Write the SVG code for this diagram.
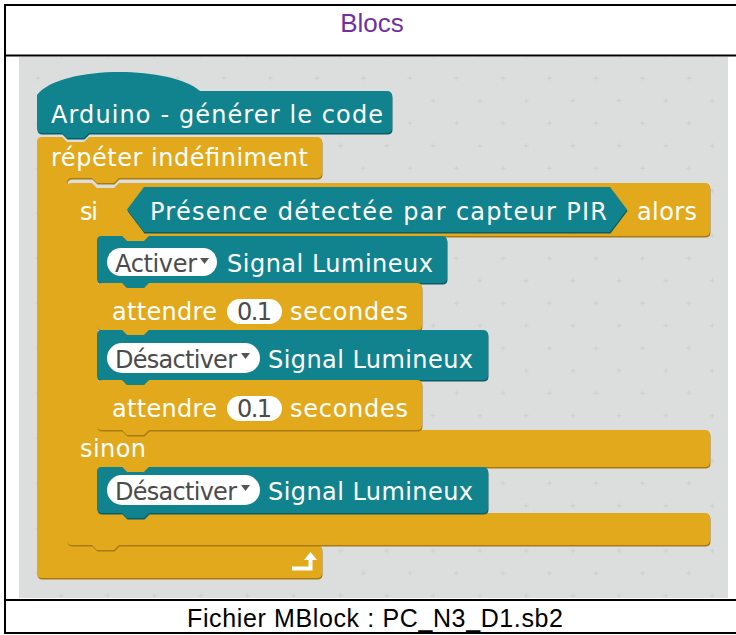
<svg xmlns="http://www.w3.org/2000/svg" xmlns:xlink="http://www.w3.org/1999/xlink" width="736" height="635" viewBox="0 0 736 635">
<defs>
<style>
.tbl{fill:none;stroke:#000;stroke-width:2}
.teal{fill:#11838f}
.tealS{fill:#0a5c66}
.yel{fill:#e2a91c}
.yelS{fill:#a87a12}
.t{font-family:"DejaVu Sans",Verdana,sans-serif;font-size:24px;fill:#fff}
.d{font-family:"DejaVu Sans",Verdana,sans-serif;font-size:24px;fill:#4b4b4b}
.pill{fill:#fff}
.arr{fill:#555}
.hdr{font-family:"Liberation Sans",Arial,sans-serif;font-size:26px;text-anchor:middle}
</style>
<pattern id="grid" x="398.4" y="67" width="46.5" height="45" patternUnits="userSpaceOnUse">
<path d="M9.1,11.25h5M11.6,8.75v5M32.4,33.75h5M34.9,31.25v5" stroke="#cdd0cf" stroke-width="1" fill="none"/>
</pattern>
<path id="pHat" d="M37,95 C60,65 170,65 200,91 L387,91 Q392,91 392,96 L392,128 Q392,133 387,133 L89,133 L84,138 L67,138 L62,133 L42,133 Q37,133 37,128 Z"/>
<path id="pFor" d="M37,142 Q37,137 42,137 L62,137 L67,142 L84,142 L89,137 L317,137 Q322,137 322,142 L322,173 Q322,178 317,178 L119,178 L114,183 L97,183 L92,178 L72,178 Q67,178 67,183 L67,540 Q67,545 72,545 L92,545 L97,550 L114,550 L119,545 L317,545 Q322,545 322,550 L322,573 Q322,578 317,578 L42,578 Q37,578 37,573 Z"/>
<path id="pIf" d="M67,188 Q67,183 72,183 L92,183 L97,188 L114,188 L119,183 L705,183 Q710,183 710,188 L710,231 Q710,236 705,236 L149,236 L144,241 L127,241 L122,236 L102,236 Q97,236 97,241 L97,425 Q97,430 102,430 L122,430 L127,435 L144,435 L149,430 L705,430 Q710,430 710,435 L710,462 Q710,467 705,467 L149,467 L144,472 L127,472 L122,467 L102,467 Q97,467 97,472 L97,508 Q97,513 102,513 L122,513 L127,518 L144,518 L149,513 L705,513 Q710,513 710,518 L710,540 Q710,545 705,545 L119,545 L114,550 L97,550 L92,545 L72,545 Q67,545 67,540 Z"/>
<path id="pA" d="M97,241 Q97,236 102,236 L122,236 L127,241 L144,241 L149,236 L442,236 Q447,236 447,241 L447,278 Q447,283 442,283 L149,283 L144,288 L127,288 L122,283 L102,283 Q97,283 97,278 Z"/>
<path id="pB" d="M97,288 Q97,283 102,283 L122,283 L127,288 L144,288 L149,283 L417,283 Q422,283 422,288 L422,325 Q422,330 417,330 L149,330 L144,335 L127,335 L122,330 L102,330 Q97,330 97,325 Z"/>
<path id="pC" d="M97,335 Q97,330 102,330 L122,330 L127,335 L144,335 L149,330 L483,330 Q488,330 488,335 L488,375 Q488,380 483,380 L149,380 L144,385 L127,385 L122,380 L102,380 Q97,380 97,375 Z"/>
<path id="pD" d="M97,385 Q97,380 102,380 L122,380 L127,385 L144,385 L149,380 L417,380 Q422,380 422,385 L422,425 Q422,430 417,430 L149,430 L144,435 L127,435 L122,430 L102,430 Q97,430 97,425 Z"/>
<path id="pE" d="M97,472 Q97,467 102,467 L122,467 L127,472 L144,472 L149,467 L483,467 Q488,467 488,472 L488,508 Q488,513 483,513 L149,513 L144,518 L127,518 L122,513 L102,513 Q97,513 97,508 Z"/>
<path id="pHex" d="M127,209.5 L144,187 L610,187 L627,209.5 L610,232 L144,232 Z"/>
</defs>

<g id="table">
<rect x="5" y="5" width="740" height="628" class="tbl"/>
<line x1="5" y1="55.5" x2="736" y2="55.5" class="tbl"/>
<line x1="5" y1="600" x2="736" y2="600" class="tbl"/>
<text x="372" y="32" class="hdr" fill="#7030a0">Blocs</text>
<text x="187" y="627" font-family="Liberation Sans, Arial, sans-serif" font-size="25" fill="#000" textLength="376">Fichier MBlock : PC_N3_D1.sb2</text>
</g>

<g id="canvas">
<rect x="19" y="57" width="709" height="541" fill="#dcdedd"/>
<rect x="19" y="57" width="709" height="541" fill="url(#grid)"/>
</g>

<g id="connectors"></g>

<g id="hat">
<use xlink:href="#pHat" class="tealS" transform="translate(0.5,1.5)"/>
<use xlink:href="#pHat" class="teal"/>
<text x="51" y="123" class="t" textLength="332">Arduino - générer le code</text>
</g>

<g id="forever">
<use xlink:href="#pFor" class="yelS" transform="translate(0.5,1.5)"/>
<use xlink:href="#pFor" class="yel"/>
<text x="51" y="166" class="t" textLength="257">répéter indéfiniment</text>
<path d="M292,568.5 H310.5 V558" fill="none" stroke="#fff" stroke-width="4"/>
<polygon points="304,560 310.5,552 317,560" fill="#fff"/>
</g>

<g id="ifelse">
<use xlink:href="#pIf" class="yelS" transform="translate(0.5,1.5)"/>
<use xlink:href="#pIf" class="yel"/>
<text x="80" y="220" class="t" textLength="18">si</text>
<text x="637" y="220" class="t" textLength="60">alors</text>
<text x="80" y="457" class="t" textLength="66">sinon</text>
</g>

<g id="condition">
<use xlink:href="#pHex" class="tealS" transform="translate(0.5,1.5)"/>
<use xlink:href="#pHex" class="teal"/>
<text x="150" y="220" class="t" textLength="457">Présence détectée par capteur PIR</text>
</g>

<g id="activer">
<use xlink:href="#pA" class="tealS" transform="translate(0.5,1.5)"/>
<use xlink:href="#pA" class="teal"/>
<rect x="107" y="248" width="110" height="28" rx="14" class="pill"/>
<text x="115" y="272" class="d" textLength="82">Activer</text>
<polygon points="200,258 209,258 204.5,264" class="arr"/>
<text x="227" y="272" class="t" textLength="206">Signal Lumineux</text>
</g>

<g id="attendre1">
<use xlink:href="#pB" class="yelS" transform="translate(0.5,1.5)"/>
<use xlink:href="#pB" class="yel"/>
<text x="112" y="320" class="t" textLength="105">attendre</text>
<rect x="227" y="299" width="55" height="25" rx="12.5" class="pill"/>
<text x="237" y="320" class="d" textLength="35">0.1</text>
<text x="290" y="320" class="t" textLength="118">secondes</text>
</g>

<g id="desactiver1">
<use xlink:href="#pC" class="tealS" transform="translate(0.5,1.5)"/>
<use xlink:href="#pC" class="teal"/>
<rect x="107" y="343" width="153" height="30" rx="15" class="pill"/>
<text x="115" y="368" class="d" textLength="122">Désactiver</text>
<polygon points="241,353 250,353 245.5,359" class="arr"/>
<text x="268" y="368" class="t" textLength="205">Signal Lumineux</text>
</g>

<g id="attendre2">
<use xlink:href="#pD" class="yelS" transform="translate(0.5,1.5)"/>
<use xlink:href="#pD" class="yel"/>
<text x="112" y="417" class="t" textLength="105">attendre</text>
<rect x="227" y="396" width="55" height="25" rx="12.5" class="pill"/>
<text x="237" y="417" class="d" textLength="35">0.1</text>
<text x="290" y="417" class="t" textLength="118">secondes</text>
</g>

<g id="desactiver2">
<use xlink:href="#pE" class="tealS" transform="translate(0.5,1.5)"/>
<use xlink:href="#pE" class="teal"/>
<rect x="107" y="475" width="153" height="30" rx="15" class="pill"/>
<text x="115" y="500" class="d" textLength="122">Désactiver</text>
<polygon points="241,485 250,485 245.5,491" class="arr"/>
<text x="268" y="500" class="t" textLength="205">Signal Lumineux</text>
</g>
</svg>
